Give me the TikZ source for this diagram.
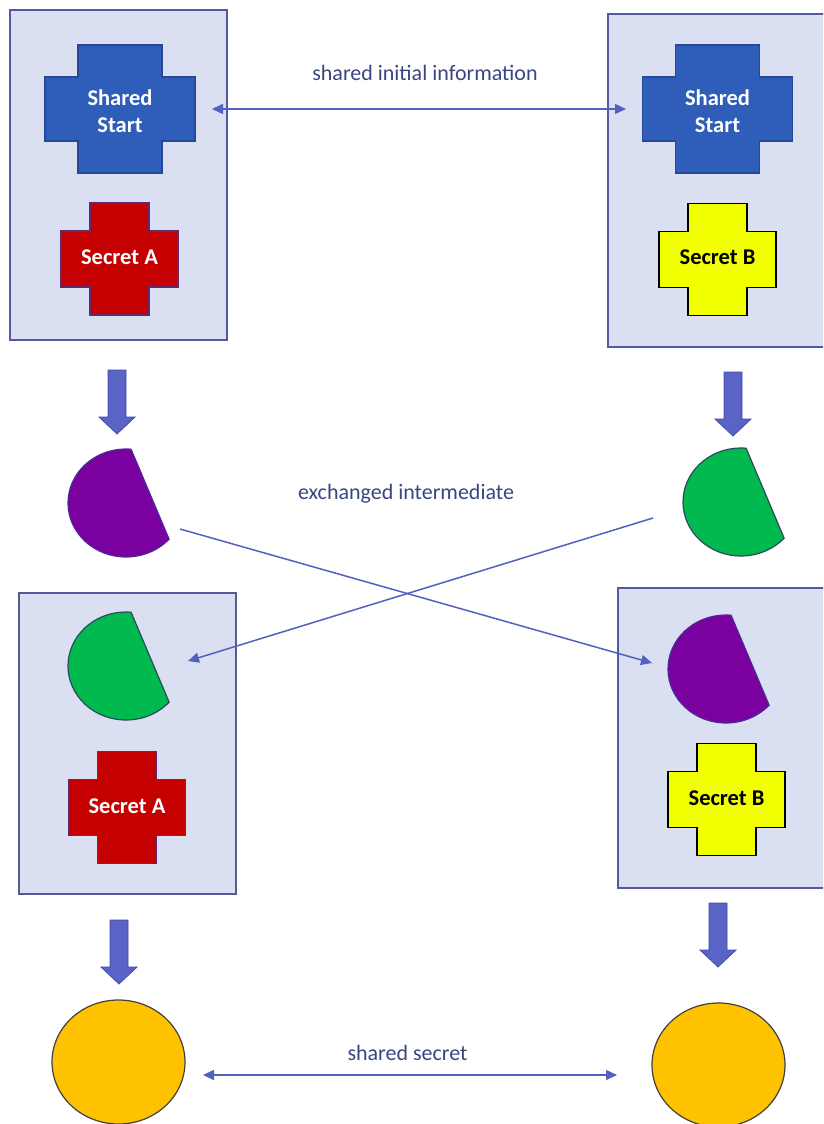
\documentclass[tikz,border=0pt]{standalone}
\usepackage{fontspec}
\setmainfont{Carlito}
\usetikzlibrary{arrows.meta,shapes.geometric}
\definecolor{boxfill}{RGB}{218,223,241}
\definecolor{boxedge}{RGB}{84,90,160}
\definecolor{blueS}{RGB}{46,94,186}
\definecolor{blueSedge}{RGB}{38,72,150}
\definecolor{redS}{RGB}{196,0,0}
\definecolor{redSedge}{RGB}{100,40,110}
\definecolor{yellowS}{RGB}{242,255,0}
\definecolor{purpleS}{RGB}{122,0,160}
\definecolor{purpleedge}{RGB}{72,44,150}
\definecolor{greenS}{RGB}{0,186,80}
\definecolor{greenedge}{RGB}{40,75,90}
\definecolor{orangeS}{RGB}{255,194,0}
\definecolor{arrowc}{RGB}{82,96,192}
\definecolor{blockc}{RGB}{90,99,198}
\definecolor{blockedge}{RGB}{66,76,170}
\definecolor{labelc}{RGB}{58,70,130}
\tikzset{
  panel/.style={draw=boxedge, fill=boxfill, line width=1.4pt, rectangle, inner sep=0pt},
  bigplus/.style={draw=blueSedge, fill=blueS, line width=1.2pt},
  redplus/.style={draw=redSedge, fill=redS, line width=1.2pt},
  yelplus/.style={draw=black, fill=yellowS, line width=1.2pt},
  purchord/.style={draw=purpleedge, fill=purpleS, line width=1.2pt},
  grechord/.style={draw=greenedge, fill=greenS, line width=1.2pt},
  sunball/.style={draw=black!75, fill=orangeS, line width=1.2pt, ellipse, inner sep=0pt, minimum width=133pt, minimum height=124pt},
  blockarrow/.style={draw=blockedge, fill=blockc, line width=0.8pt},
  thinarrow/.style={draw=arrowc, line width=1.5pt, -{Triangle[length=11pt,width=10pt]}},
  bothways/.style={draw=arrowc, line width=1.5pt, {Triangle[length=11pt,width=10pt]}-{Triangle[length=11pt,width=10pt]}},
  shapetext/.style={font=\fontsize{22.5}{26.4}\selectfont\bfseries, align=center, inner sep=0pt},
  labeltext/.style={font=\fontsize{22}{26.4}\selectfont, text=labelc, inner sep=0pt}
}
\begin{document}
\begin{tikzpicture}[x=1pt,y=1pt,yscale=-1]
\useasboundingbox (0,0) rectangle (823,1124);
\fill[white] (0,0) rectangle (823,1124);
\clip (0,0) rectangle (823,1124);

% panels
\node[panel, minimum width=217pt, minimum height=330pt] (boxTL) at (118.5,175) {};
\node[panel, minimum width=222pt, minimum height=333pt] (boxTR) at (719,180.5) {};
\node[panel, minimum width=217pt, minimum height=301pt] (boxBL) at (127.5,743.5) {};
\node[panel, minimum width=212pt, minimum height=300pt] (boxBR) at (724,738) {};

% crosses
\def\bigcross{(-42,-64) -- (42,-64) -- (42,-32) -- (75,-32) -- (75,32) -- (42,32) -- (42,64) -- (-42,64) -- (-42,32) -- (-75,32) -- (-75,-32) -- (-42,-32) -- cycle}
\def\smallcross{(-29.5,-56) -- (29.5,-56) -- (29.5,-28) -- (58.5,-28) -- (58.5,28) -- (29.5,28) -- (29.5,56) -- (-29.5,56) -- (-29.5,28) -- (-58.5,28) -- (-58.5,-28) -- (-29.5,-28) -- cycle}
\path[bigplus, shift={(120,109)}] \bigcross;
\path[bigplus, shift={(717.5,109)}] \bigcross;
\path[redplus, shift={(119.5,259)}] \smallcross;
\path[yelplus, shift={(717.5,259.5)}] \smallcross;
\path[redplus, shift={(127,807.5)}] \smallcross;
\path[yelplus, shift={(726.5,799.5)}] \smallcross;

\node[shapetext, text=white] (startA) at (120,111) {Shared\\Start};
\node[shapetext, text=white] (startB) at (717.5,111) {Shared\\Start};
\node[shapetext, text=white] (secA1) at (119.5,257) {Secret A};
\node[shapetext, text=black] (secB1) at (717.5,257.5) {Secret B};
\node[shapetext, text=white] (secA2) at (127,806) {Secret A};
\node[shapetext, text=black] (secB2) at (726.5,798) {Secret B};

% chord shapes
\def\chordpath{(43.1,36.1) -- (5.06,-53.8) arc[start angle=275, end angle=42, x radius=58, y radius=54] -- cycle}
\path[purchord, shift={(126,503)}] \chordpath;
\path[grechord, shift={(741,502)}] \chordpath;
\path[grechord, shift={(126,666)}] \chordpath;
\path[purchord, shift={(726,669)}] \chordpath;
\coordinate (pubA) at (126,503);
\coordinate (pubB) at (741,502);
\coordinate (gotB) at (126,666);
\coordinate (gotA) at (726,669);

% block arrows
\def\blockpath{(-9,0) -- (9,0) -- (9,47) -- (18,47) -- (0,64) -- (-18,47) -- (-9,47) -- cycle}
\path[blockarrow, shift={(117,370)}] \blockpath;
\path[blockarrow, shift={(733,372)}] \blockpath;
\path[blockarrow, shift={(119,920)}] \blockpath;
\path[blockarrow, shift={(718,903)}] \blockpath;

% shared secrets
\node[sunball] (keyA) at (118.5,1062) {};
\node[sunball] (keyB) at (718.5,1065) {};

% thin connectors
\coordinate (i1) at (212,109);
\coordinate (i2) at (626,109);
\draw[bothways] (i1) -- (i2);
\node[labeltext] (lab1) at (425,73) {shared initial information};

\coordinate (x1s) at (180,529);
\coordinate (x1e) at (652,663);
\coordinate (x2s) at (653,518);
\coordinate (x2e) at (188,661);
\draw[thinarrow] (x1s) -- (x1e);
\draw[thinarrow] (x2s) -- (x2e);
\node[labeltext] (lab2) at (406,494) {exchanged intermediate};

\coordinate (s1) at (203,1075);
\coordinate (s2) at (617,1075);
\draw[bothways] (s1) -- (s2);
\node[labeltext] (lab3) at (407.5,1053) {shared secret};
\end{tikzpicture}
\end{document}
